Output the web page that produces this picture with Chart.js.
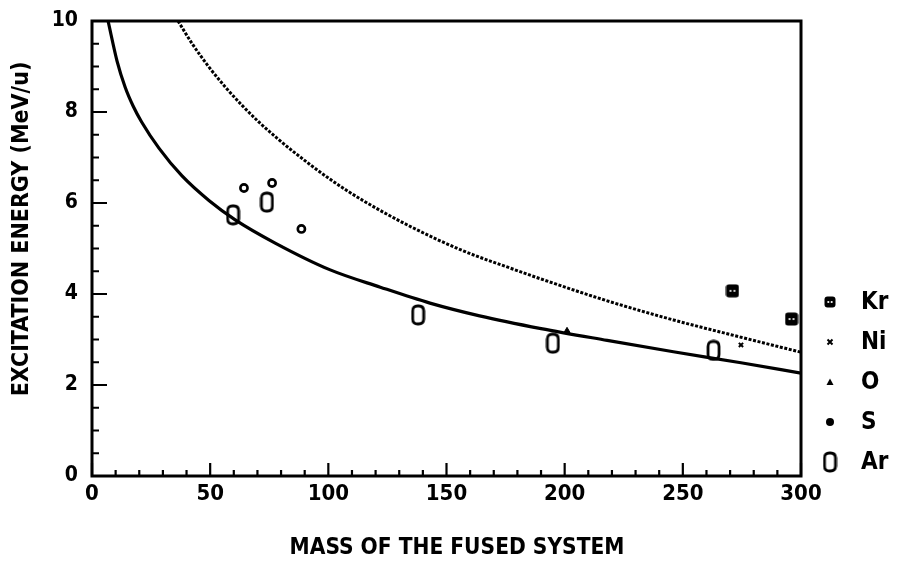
<!DOCTYPE html>
<html>
<head>
<meta charset="utf-8">
<script src="https://cdn.jsdelivr.net/npm/chart.js@4"></script>
<style>
html,body{margin:0;padding:0;background:#fff;}
#wrap{width:897px;height:576px;}
</style>
</head>
<body>
<div id="wrap"><canvas id="c" width="897" height="576"></canvas></div>
<script>
// ---- data ----
const xTicks = [0, 50, 100, 150, 200, 250, 300];
const yTicks = [0, 2, 4, 6, 8, 10];
const xTitle = 'MASS OF THE FUSED SYSTEM';
const yTitle = 'EXCITATION ENERGY (MeV/u)';

const solidA = [6.8, 10.6, 14, 17.5, 21, 28.4, 38, 49.6, 60.6, 77.5, 100.8, 122, 143, 164, 190, 218, 246, 274.6, 300];
const solidE = [10, 9.12, 8.55, 8.12, 7.78, 7.2, 6.6, 6.05, 5.63, 5.12, 4.53, 4.15, 3.80, 3.52, 3.24, 2.98, 2.73, 2.49, 2.26];

const dotA = [36.4, 42.4, 49.6, 56.4, 63.6, 70.8, 78.4, 84.7, 100.8, 114.8, 136, 157, 178, 190, 218, 246, 274.6, 300];
const dotE = [10, 9.50, 8.98, 8.55, 8.14, 7.77, 7.42, 7.15, 6.52, 6.05, 5.45, 4.95, 4.55, 4.33, 3.85, 3.43, 3.05, 2.72];

const krA = [271, 296];
const krE = [4.07, 3.45];
const niA = [274.6];
const niE = [2.88];
const oA = [201];
const oE = [3.19];
const sA = [64.3, 76.2, 88.6];
const sE = [6.33, 6.44, 5.43];
const arA = [59.7, 74, 138, 195, 263];
const arE = [5.74, 6.02, 3.54, 2.92, 2.76];

const legendNames = ['Kr', 'Ni', 'O', 'S', 'Ar'];

// ---- marker images ----
function rr(ctx, x, y, w, h, r) {
  ctx.beginPath();
  ctx.moveTo(x + r, y);
  ctx.lineTo(x + w - r, y);
  ctx.quadraticCurveTo(x + w, y, x + w, y + r);
  ctx.lineTo(x + w, y + h - r);
  ctx.quadraticCurveTo(x + w, y + h, x + w - r, y + h);
  ctx.lineTo(x + r, y + h);
  ctx.quadraticCurveTo(x, y + h, x, y + h - r);
  ctx.lineTo(x, y + r);
  ctx.quadraticCurveTo(x, y, x + r, y);
  ctx.closePath();
}
function makeAr() {
  const c = document.createElement('canvas');
  c.width = 15; c.height = 22;
  const g = c.getContext('2d');
  g.lineWidth = 2.8; g.strokeStyle = '#000';
  rr(g, 2, 2, 11, 18, 5);
  g.stroke();
  return c;
}
function makeKr(s) {
  const c = document.createElement('canvas');
  c.width = s; c.height = s;
  const g = c.getContext('2d');
  g.fillStyle = '#000';
  rr(g, 0.5, 0.5, s - 1, s - 1, 3);
  g.fill();
  g.fillStyle = '#fff';
  g.beginPath(); g.arc(s * 0.36, s * 0.5, 1.1, 0, Math.PI * 2); g.fill();
  g.beginPath(); g.arc(s * 0.64, s * 0.5, 1.1, 0, Math.PI * 2); g.fill();
  return c;
}
const arImg = makeAr();
const krImg = makeKr(14);
const krLegImg = makeKr(12);

function pts(a, e) { return a.map((v, i) => ({x: v, y: e[i]})); }

const FAM = "'Liberation Sans Narrow','DejaVu Sans Condensed','Liberation Sans',sans-serif";
const TICK_FONT_X = {family: FAM, size: 22, weight: 'bold'};
const TICK_FONT_Y = {family: FAM, size: 21, weight: 'bold'};

// ---- frame, inward ticks, axis titles ----
const framePlugin = {
  id: 'frame',
  beforeDatasetsDraw(chart) {
    const {ctx, chartArea: a, scales: {x, y}} = chart;
    ctx.save();
    ctx.strokeStyle = '#000';
    ctx.lineWidth = 3;
    ctx.strokeRect(a.left, a.top, a.right - a.left, a.bottom - a.top);
    ctx.lineWidth = 2.2;
    ctx.beginPath();
    for (let v = x.min; v <= x.max + 1e-9; v += 10) {
      const px = x.getPixelForValue(v);
      const len = (Math.round(v) % 50 === 0) ? 13 : 6;
      ctx.moveTo(px, a.bottom);
      ctx.lineTo(px, a.bottom - len);
    }
    for (let v = y.min; v <= y.max + 1e-9; v += 0.5) {
      const py = y.getPixelForValue(v);
      const isMajor = Math.abs(v / 2 - Math.round(v / 2)) < 1e-6;
      const len = isMajor ? 15 : 7;
      ctx.moveTo(a.left, py);
      ctx.lineTo(a.left + len, py);
    }
    ctx.stroke();

    // axis titles
    ctx.fillStyle = '#000';
    ctx.textAlign = 'center';
    ctx.textBaseline = 'middle';
    ctx.font = "bold 22.5px " + FAM;
    ctx.fillText(xTitle, 457, 548);
    ctx.translate(22, 229);
    ctx.rotate(-Math.PI / 2);
    ctx.font = "bold 23px " + FAM;
    ctx.fillText(yTitle, 0, 0);
    ctx.restore();
  }
};

// ---- legend at right ----
const legendPlugin = {
  id: 'sideLegend',
  afterDraw(chart) {
    const {ctx} = chart;
    const mx = 830, tx = 861, y0 = 302, dy = 40;
    ctx.save();
    ctx.fillStyle = '#000';
    ctx.strokeStyle = '#000';
    ctx.font = "bold 24px " + FAM;
    ctx.textBaseline = 'middle';
    ctx.textAlign = 'left';
    legendNames.forEach((name, i) => {
      const y = y0 + i * dy;
      if (name === 'Kr') {
        ctx.drawImage(krLegImg, mx - 6, y - 6);
      } else if (name === 'Ni') {
        ctx.lineWidth = 2;
        ctx.beginPath();
        ctx.moveTo(mx - 2.5, y - 2.5); ctx.lineTo(mx + 2.5, y + 2.5);
        ctx.moveTo(mx + 2.5, y - 2.5); ctx.lineTo(mx - 2.5, y + 2.5);
        ctx.stroke();
      } else if (name === 'O') {
        ctx.beginPath();
        ctx.moveTo(mx, y - 3.5); ctx.lineTo(mx + 3.5, y + 3); ctx.lineTo(mx - 3.5, y + 3);
        ctx.closePath(); ctx.fill();
      } else if (name === 'S') {
        ctx.beginPath(); ctx.arc(mx, y, 4, 0, Math.PI * 2); ctx.fill();
      } else if (name === 'Ar') {
        ctx.drawImage(arImg, mx - 7.5, y - 11);
      }
      ctx.fillText(name, tx, y + 1);
    });
    ctx.restore();
  }
};

new Chart(document.getElementById('c'), {
  type: 'scatter',
  data: {
    datasets: [
      {label: 'solid', type: 'line', data: pts(solidA, solidE), borderColor: '#000', borderWidth: 3.2,
       pointRadius: 0, fill: false, cubicInterpolationMode: 'monotone', order: 2},
      {label: 'dotted', type: 'line', data: pts(dotA, dotE), borderColor: '#000', borderWidth: 3,
       borderDash: [3, 1.6], pointRadius: 0, fill: false, cubicInterpolationMode: 'monotone', order: 2},
      {label: 'Kr', data: pts(krA, krE), pointStyle: krImg, pointRadius: 7, order: 1},
      {label: 'Ni', data: pts(niA, niE), pointStyle: 'crossRot', pointRadius: 3, borderWidth: 2,
       borderColor: '#000', backgroundColor: '#000', order: 1},
      {label: 'O', data: pts(oA, oE), pointStyle: 'triangle', pointRadius: 3.5, borderWidth: 1,
       borderColor: '#000', backgroundColor: '#000', order: 1},
      {label: 'S', data: pts(sA, sE), pointStyle: 'circle', pointRadius: 3.6, borderWidth: 2.6,
       borderColor: '#000', backgroundColor: '#fff', order: 1},
      {label: 'Ar', data: pts(arA, arE), pointStyle: arImg, pointRadius: 9, order: 1}
    ]
  },
  options: {
    responsive: false,
    animation: false,
    events: [],
    layout: {padding: {top: 21, right: 96, left: 0, bottom: 0}},
    plugins: {legend: {display: false}, tooltip: {enabled: false}, title: {display: false}},
    scales: {
      x: {
        type: 'linear', min: 0, max: 300,
        afterBuildTicks: s => { s.ticks = xTicks.map(v => ({value: v})); },
        afterFit: s => { s.height = 100; s.paddingLeft = 0; s.paddingRight = 0; },
        grid: {display: false, drawTicks: false},
        border: {display: false},
        ticks: {color: '#000', font: TICK_FONT_X, padding: 5, maxRotation: 0, autoSkip: false},
        title: {display: false}
      },
      y: {
        type: 'linear', min: 0, max: 10,
        afterBuildTicks: s => { s.ticks = yTicks.map(v => ({value: v})); },
        afterFit: s => { s.width = 92; s.paddingTop = 0; s.paddingBottom = 0; },
        grid: {display: false, drawTicks: false},
        border: {display: false},
        ticks: {color: '#000', font: TICK_FONT_Y, padding: 14, autoSkip: false},
        title: {display: false}
      }
    }
  },
  plugins: [framePlugin, legendPlugin]
});
</script>
</body>
</html>
